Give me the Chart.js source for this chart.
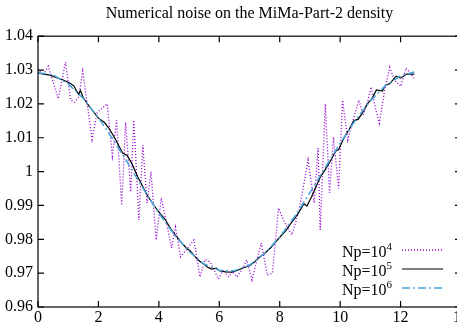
<!DOCTYPE html>
<html lang="en">
<head>
<meta charset="UTF-8" />
<title>Numerical noise on the MiMa-Part-2 density</title>
<style>
  html, body { margin: 0; padding: 0; background: #fff; overflow: hidden; }
  .chart-container { position: relative; width: 470px; height: 328px; }
</style>
<script src="https://cdn.jsdelivr.net/npm/chart.js"></script>
</head>
<body>
<div class="chart-container"><canvas id="noiseChart"></canvas></div>
<script>
// values
const legendExp = ["4", "5", "6"];

// Np = 10^4 (noisy, dotted purple)
const np4X = [0, 0.17, 0.34, 0.51, 0.67, 0.91, 1.08, 1.21, 1.35, 1.48, 1.79, 1.96, 2.29, 2.46,
  2.60, 2.77, 2.90, 3.07, 3.17, 3.34, 3.47, 3.61, 3.74, 3.91, 4.08, 4.25, 4.42, 4.55, 4.72,
  4.92, 5.16, 5.36, 5.53, 5.70, 5.97, 6.14, 6.31, 6.44, 6.58, 6.75, 6.91, 7.08, 7.39, 7.59,
  7.76, 7.96, 8.16, 8.40, 8.63, 8.94, 9.14, 9.27, 9.34, 9.51, 9.65, 9.78, 9.95, 10.08, 10.25,
  10.42, 10.62, 10.76, 10.89, 11.03, 11.16, 11.30, 11.47, 11.64, 11.80, 12.01, 12.18, 12.31, 12.45];
const np4Y = [1.0305, 1.0285, 1.0311, 1.0262, 1.0215, 1.0323, 1.0212, 1.0205, 1.0220, 1.0297,
  1.0095, 1.0175, 1.0200, 1.0046, 1.0152, 0.9900, 1.0146, 0.9940, 1.0152, 0.9857, 1.0078,
  0.9907, 1.0000, 0.9798, 0.9922, 0.9850, 0.9774, 0.9836, 0.9748, 0.9770, 0.9798, 0.9689,
  0.9740, 0.9733, 0.9683, 0.9710, 0.9689, 0.9705, 0.9689, 0.9710, 0.9739, 0.9680, 0.9789,
  0.9694, 0.9700, 0.9892, 0.9850, 0.9813, 0.9880, 1.0034, 0.9907, 1.0070, 0.9827, 1.0200,
  0.9937, 1.0102, 0.9950, 1.0211, 1.0093, 1.0150, 1.0211, 1.0167, 1.0200, 1.0250, 1.0190,
  1.0143, 1.0240, 1.0308, 1.0270, 1.0252, 1.0306, 1.0292, 1.0276];

// Np = 10^5 (solid black)
const np5X = [0, 0.4, 0.6, 0.85, 1.05, 1.2, 1.25, 1.35, 1.4, 1.5, 1.7, 1.9, 2.0, 2.2, 2.35,
  2.55, 2.7, 2.8, 2.95, 3.1, 3.3, 3.5, 3.65, 3.8, 4.0, 4.2, 4.4, 4.55, 4.7, 4.9, 5.05, 5.2,
  5.35, 5.5, 5.6, 5.75, 5.9, 6.0, 6.2, 6.4, 6.6, 6.8, 7.0, 7.15, 7.3, 7.5, 7.7, 7.85, 8.0,
  8.2, 8.35, 8.5, 8.65, 8.8, 8.9, 9.05, 9.2, 9.35, 9.5, 9.7, 9.85, 9.95, 10.1, 10.3, 10.45,
  10.6, 10.75, 10.9, 11.05, 11.2, 11.4, 11.5, 11.65, 11.85, 12.0, 12.2, 12.45];
const np5Y = [1.0291, 1.0285, 1.0278, 1.0270, 1.0262, 1.0252, 1.0242, 1.0228, 1.0240, 1.0218,
  1.0192, 1.0170, 1.0158, 1.0145, 1.0128, 1.0098, 1.0072, 1.0055, 1.0048, 1.0025, 0.9985,
  0.9950, 0.9925, 0.9905, 0.9880, 0.9860, 0.9830, 0.9812, 0.9795, 0.9775, 0.9765, 0.9748,
  0.9735, 0.9726, 0.9718, 0.9712, 0.9715, 0.9707, 0.9704, 0.9703, 0.9708, 0.9716, 0.9722,
  0.9732, 0.9745, 0.9758, 0.9775, 0.9790, 0.9806, 0.9825, 0.9845, 0.9862, 0.9882, 0.9905,
  0.9898, 0.9925, 0.9955, 0.9985, 1.0005, 1.0035, 1.0060, 1.0065, 1.0095, 1.0125, 1.0150,
  1.0155, 1.0175, 1.0200, 1.0215, 1.0241, 1.0238, 1.0255, 1.0260, 1.0282, 1.0276, 1.0288, 1.0288];

// Np = 10^6 (smooth, dash-dot blue)
const np6X = [0, 0.5, 1.0, 1.5, 2.0, 2.5, 3.0, 3.5, 4.0, 4.5, 5.0, 5.5, 6.0, 6.5, 7.0, 7.5,
  8.0, 8.5, 9.0, 9.5, 10.0, 10.5, 11.0, 11.5, 12.0, 12.45];
const np6Y = [1.0292, 1.0286, 1.0259, 1.0216, 1.0159, 1.0093, 1.0021, 0.9947, 0.9877, 0.9815,
  0.9764, 0.9727, 0.9708, 0.9707, 0.9724, 0.9758, 0.9807, 0.9868, 0.9938, 1.0011, 1.0084,
  1.0151, 1.0209, 1.0254, 1.0283, 1.0294];

const serif = "'Liberation Serif', 'DejaVu Serif', serif";
const pts = (xs, ys) => xs.map((x, i) => ({ x: x, y: ys[i] }));

const styles = [
  { color: "#9400d3", width: 1.3, dash: [1, 2] },
  { color: "#000000", width: 1.2, dash: [] },
  { color: "#4aa8dc", width: 1.5, dash: [8, 3, 2, 3] },
];

// gnuplot style frame: box, inward ticks on all sides, key at bottom right
const framePlugin = {
  id: "frame",
  afterDraw(chart) {
    const ctx = chart.ctx;
    const a = chart.chartArea;
    const xs = chart.scales.x, ys = chart.scales.y;
    ctx.save();
    ctx.strokeStyle = "#000";
    ctx.lineWidth = 1.2;
    ctx.strokeRect(a.left, a.top, a.right - a.left, a.bottom - a.top);
    ctx.beginPath();
    xs.ticks.forEach(t => {
      const px = xs.getPixelForValue(t.value);
      ctx.moveTo(px, a.bottom); ctx.lineTo(px, a.bottom - 6);
      ctx.moveTo(px, a.top); ctx.lineTo(px, a.top + 6);
    });
    ys.ticks.forEach(t => {
      const py = ys.getPixelForValue(t.value);
      ctx.moveTo(a.left, py); ctx.lineTo(a.left + 6, py);
      ctx.moveTo(a.right, py); ctx.lineTo(a.right - 6, py);
    });
    ctx.stroke();

    // key
    const rowY = [250, 269, 288];
    const textRight = 392, lineL = 402, lineR = 443;
    rowY.forEach((y, i) => {
      ctx.font = "16px " + serif;
      const wb = ctx.measureText("Np=10").width;
      ctx.font = "11px " + serif;
      const we = ctx.measureText(legendExp[i]).width;
      const x0 = textRight - wb - we;
      ctx.fillStyle = "#000";
      ctx.textBaseline = "alphabetic";
      ctx.textAlign = "left";
      ctx.font = "16px " + serif;
      ctx.fillText("Np=10", x0, y + 7);
      ctx.font = "11px " + serif;
      ctx.fillText(legendExp[i], x0 + wb, y);
      const s = styles[i];
      ctx.beginPath();
      ctx.strokeStyle = s.color;
      ctx.lineWidth = s.width;
      ctx.setLineDash(s.dash);
      ctx.moveTo(lineL, y); ctx.lineTo(lineR, y);
      ctx.stroke();
      ctx.setLineDash([]);
    });
    ctx.restore();
  }
};

const ctx = document.getElementById("noiseChart").getContext("2d");
new Chart(ctx, {
  type: "line",
  data: {
    datasets: [
      { label: "Np=10^4", data: pts(np4X, np4Y), order: 3 },
      { label: "Np=10^5", data: pts(np5X, np5Y), order: 2 },
      { label: "Np=10^6", data: pts(np6X, np6Y), order: 1 },
    ].map((d, i) => Object.assign(d, {
      borderColor: styles[i].color,
      borderWidth: styles[i].width,
      borderDash: styles[i].dash,
      pointRadius: 0,
      tension: 0,
      fill: false,
    })),
  },
  options: {
    responsive: true,
    maintainAspectRatio: false,
    devicePixelRatio: 1,
    animation: false,
    layout: { padding: 0 },
    plugins: {
      legend: { display: false },
      tooltip: { enabled: false },
      title: {
        display: true,
        fullSize: false,
        text: "Numerical noise on the MiMa-Part-2 density",
        color: "#000",
        font: { family: serif, size: 16, weight: "normal" },
        padding: { top: 4, bottom: 13 },
      },
    },
    scales: {
      x: {
        type: "linear",
        min: 0,
        max: 14,
        grid: { display: false, drawTicks: false },
        border: { display: false },
        ticks: {
          stepSize: 2, autoSkip: false, maxRotation: 0, padding: 1,
          color: "#000", font: { family: serif, size: 16 },
        },
        afterFit: s => { s.height = 21; },
      },
      y: {
        min: 0.96,
        max: 1.04,
        grid: { display: false, drawTicks: false },
        border: { display: false },
        ticks: {
          stepSize: 0.01, autoSkip: false, padding: 5,
          color: "#000", font: { family: serif, size: 16 },
          callback: v => parseFloat(v.toFixed(2)).toString(),
        },
        afterFit: s => { s.width = 38; },
      },
    },
  },
  plugins: [framePlugin],
});
</script>
</body>
</html>
